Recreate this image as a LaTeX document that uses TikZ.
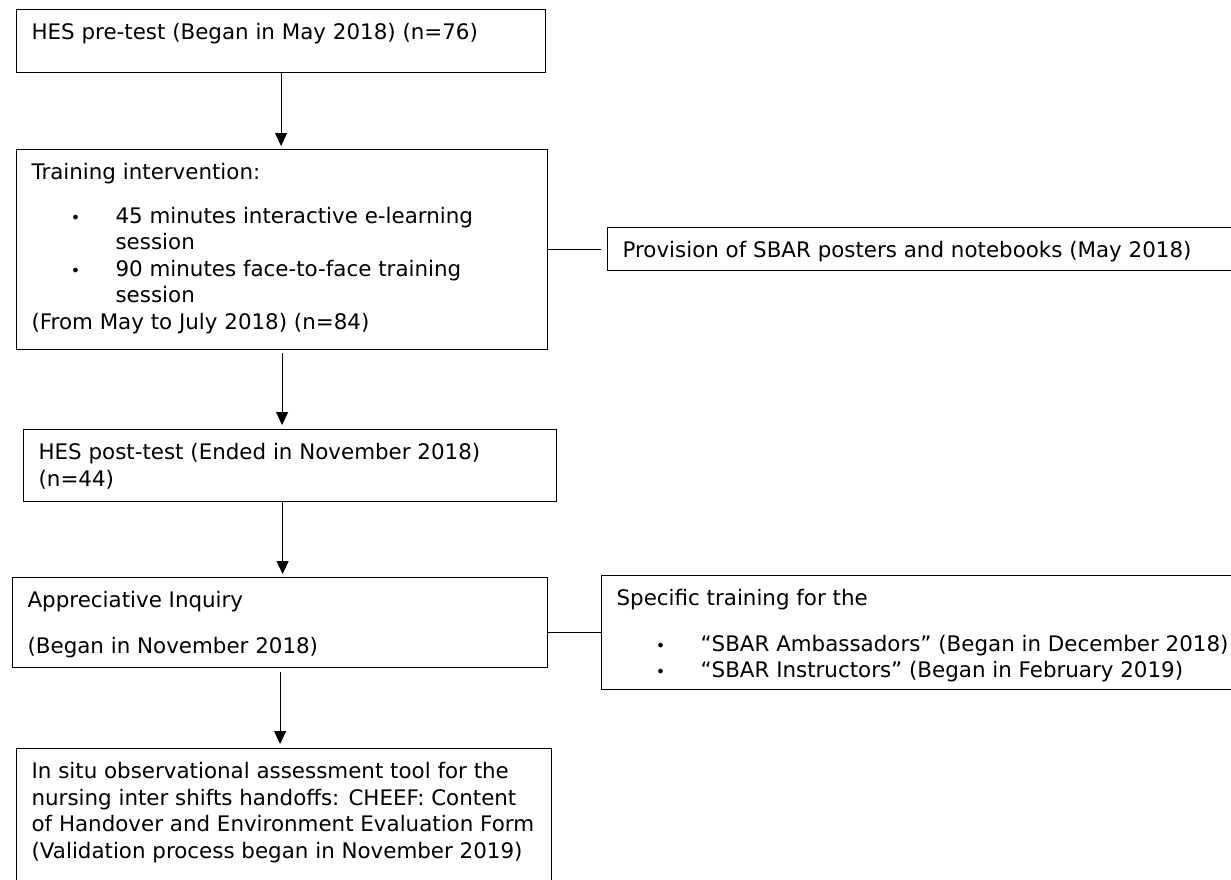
\documentclass[tikz,border=0pt]{standalone}
\usepackage{fontspec}
\setmainfont{DejaVu Sans}
\usetikzlibrary{arrows.meta,positioning}

\newcommand\stagefont{\fontsize{21.4}{26.5}\selectfont}
\newcommand\stagebox[3]{\parbox[c][#2][t]{#1}{\raggedright\vspace*{11.5pt}\strut #3}}
\newcommand\smallbullet{{\fontsize{16}{16}\selectfont\textbullet}}
\newcommand\bitem[1]{\par\hangindent=84pt\hangafter=1\noindent
  \hspace*{44pt}\makebox[0pt]{\smallbullet}\hspace*{40pt}#1}

\tikzset{
  stage/.style={draw, line width=1.2pt, anchor=north west,
    inner xsep=15pt, inner ysep=0pt, font=\stagefont},
  flow/.style={-{Triangle[width=12pt,length=13pt]}, line width=0.8pt},
  link/.style={line width=0.8pt}
}

\begin{document}
\begin{tikzpicture}[x=1pt,y=-1pt]
  \useasboundingbox (0,0) rectangle (1231,879);
  \clip (0,0) rectangle (1231,879);
  % main column
  \node[stage] (pre) at (16,9)
    {\stagebox{499pt}{63pt}{HES pre-test (Began in May 2018) (n=76)}};
  \node[stage] (train) at (16,149)
    {\stagebox{501pt}{200pt}{Training intervention:\par\vspace{17pt}
      \bitem{45 minutes interactive e-learning\newline session}
      \bitem{90 minutes face-to-face training\newline session}
      \par\noindent(From May to July 2018) (n=84)}};
  \node[stage] (post) at (23,429)
    {\stagebox{503pt}{72pt}{HES post-test (Ended in November 2018)\\(n=44)}};
  \node[stage] (inquiry) at (12,577)
    {\stagebox{505pt}{90pt}{Appreciative Inquiry\\[19pt](Began in November 2018)}};
  \node[stage] (insitu) at (16,748)
    {\stagebox{505pt}{150pt}{In situ observational assessment tool for the\\
      nursing inter shifts handoffs: CHEEF: Content\\
      of Handover and Environment Evaluation Form\\
      (Validation process began in November 2019)}};
  % side boxes
  \node[stage] (provision) at (607,227)
    {\stagebox{670pt}{43pt}{Provision of SBAR posters and notebooks (May 2018)}};
  \node[stage] (specific) at (601,575)
    {\stagebox{670pt}{114pt}{Specific training for the\par\vspace{19pt}
      \bitem{“SBAR Ambassadors” (Began in December 2018)}
      \bitem{“SBAR Instructors” (Began in February 2019)}}};
  % arrows
  \draw[flow, shorten >=3pt] (pre.south) -- (pre.south |- train.north);
  \draw[flow, shorten >=4pt] ([yshift=-3pt]train.south) -- (train.south |- post.north);
  \draw[flow, shorten >=3pt] ([xshift=2.5pt]inquiry.north |- post.south) -- ([xshift=2.5pt]inquiry.north);
  \draw[flow, shorten >=4pt] ([yshift=-4pt]inquiry.south) -- (inquiry.south |- insitu.north);
  \draw[link] (train.east |- provision.west) -- ([xshift=-6pt]provision.west);
  \draw[link] (inquiry.east |- specific.west) -- (specific.west);
\end{tikzpicture}
\end{document}
